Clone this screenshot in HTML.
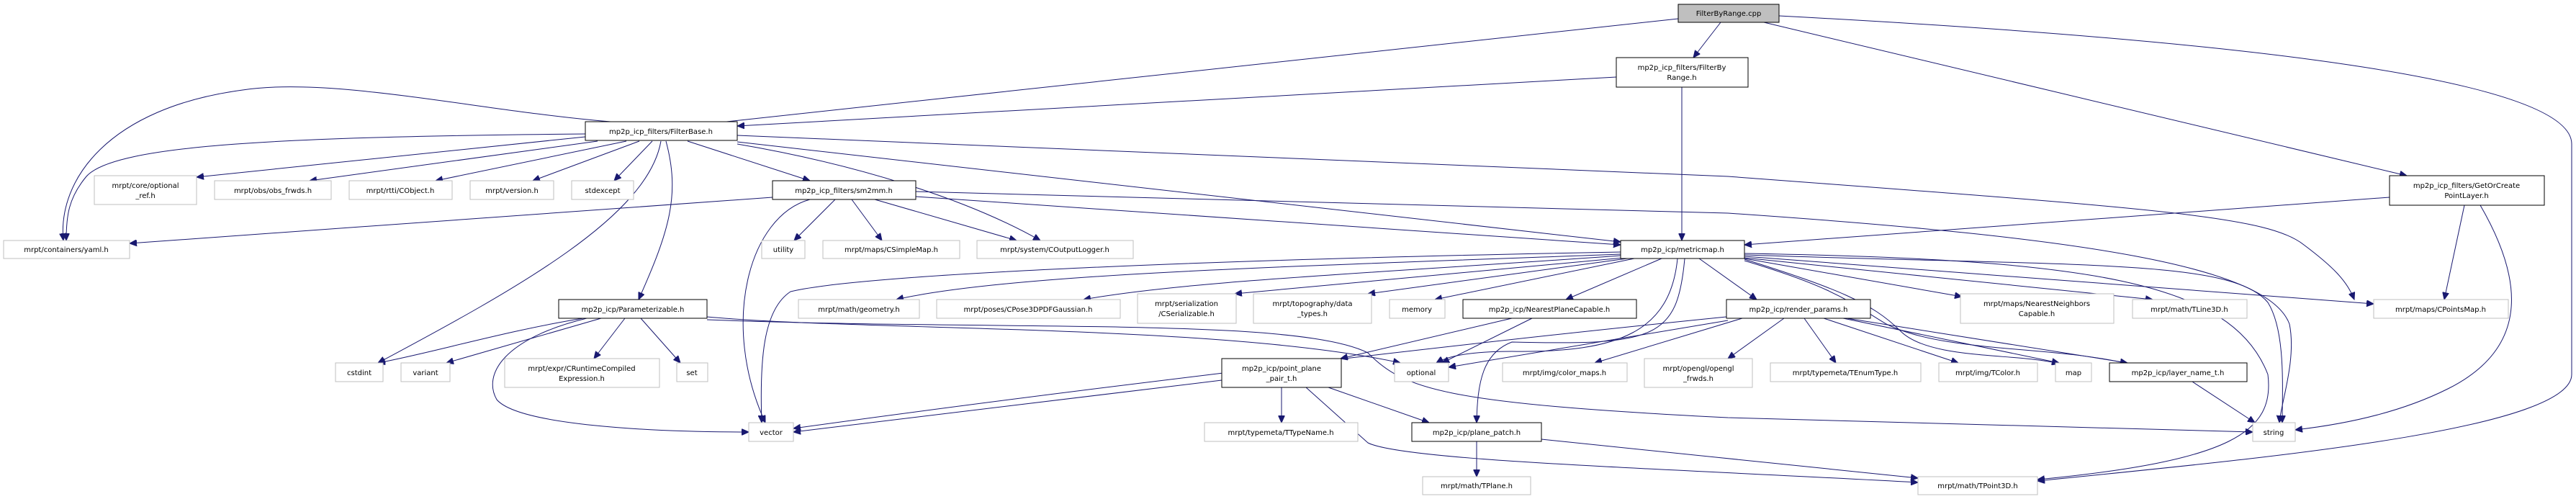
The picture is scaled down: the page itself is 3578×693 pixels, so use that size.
<!DOCTYPE html>
<html><head><meta charset="utf-8"><style>
html,body{margin:0;padding:0;background:#fff}
svg{display:block}
text{font-family:"DejaVu Sans","Liberation Sans",sans-serif;font-size:10px;fill:#000}
.e{fill:none;stroke:#191970;stroke-width:1}
.n{fill:#fff;stroke:#000;stroke-width:1}
.g{fill:#fff;stroke:#bfbfbf;stroke-width:1}
.g2{fill:#bfbfbf;stroke:#000;stroke-width:1}
</style></head><body>
<svg width="3578" height="693" viewBox="0 0 3578 693" xmlns="http://www.w3.org/2000/svg">
<defs><marker id="a" markerUnits="userSpaceOnUse" markerWidth="11" markerHeight="9" refX="10" refY="4.5" orient="auto"><path d="M0,0 L10,4.5 L0,9 z" fill="#191970" stroke="#191970"/></marker></defs>
<g marker-end="url(#a)">
<path class="e" d="M2390,31 L2352,80"/>
<path class="e" d="M2331,26 L1000,170 C800,190 500,100 337,125 C150,150 80,250 88,334"/>
<path class="e" d="M2450,31 L3343,244"/>
<path class="e" d="M2471,22 C3000,50 3572,100 3572,200 L3572,520 C3572,600 3100,640 2830,668"/>
<path class="e" d="M2245,107 L1024,175"/>
<path class="e" d="M2336,121 L2336,334"/>
<path class="e" d="M813,186 C400,190 160,200 120,245 C95,275 92,300 92,334"/>
<path class="e" d="M813,190 L273,246"/>
<path class="e" d="M830,196 L430,251"/>
<path class="e" d="M870,196 L605,251"/>
<path class="e" d="M888,196 L740,251"/>
<path class="e" d="M906,196 L853,251"/>
<path class="e" d="M955,196 L1125,251"/>
<path class="e" d="M925,196 C945,270 930,320 887,416"/>
<path class="e" d="M918,196 C900,300 720,400 525,504"/>
<path class="e" d="M1024,200 C1200,230 1350,280 1445,334"/>
<path class="e" d="M1024,197 L2251,336"/>
<path class="e" d="M1024,188 L2400,245 C3000,290 3150,300 3200,340 C3240,370 3260,390 3270,416"/>
<path class="e" d="M1073,274 L180,338"/>
<path class="e" d="M1160,277 L1103,334"/>
<path class="e" d="M1183,277 L1225,334"/>
<path class="e" d="M1215,277 L1412,334"/>
<path class="e" d="M1272,273 L2251,340"/>
<path class="e" d="M1272,266 L2400,296 C2900,330 3150,370 3180,450 C3190,500 3168,560 3166,587"/>
<path class="e" d="M1125,277 C1040,300 1000,450 1063,587"/>
<path class="e" d="M810,442 C700,460 600,490 525,504"/>
<path class="e" d="M835,442 L620,504"/>
<path class="e" d="M868,442 L825,498"/>
<path class="e" d="M890,442 L945,504"/>
<path class="e" d="M815,442 C700,470 670,520 690,555 C720,590 900,600 1040,600"/>
<path class="e" d="M982,440 C1200,460 1700,450 1945,504"/>
<path class="e" d="M982,444 C1400,460 1800,440 1900,490 C1950,540 2000,560 2400,580 L3129,600"/>
<path class="e" d="M2251,350 C1700,360 1200,380 1098,405 C1060,430 1055,500 1058,587"/>
<path class="e" d="M2251,353 C1800,370 1400,380 1245,416"/>
<path class="e" d="M2251,355 C1900,380 1650,390 1505,416"/>
<path class="e" d="M2255,358 L1715,408"/>
<path class="e" d="M2260,359 L1900,408"/>
<path class="e" d="M2270,359 L1993,416"/>
<path class="e" d="M2308,359 L2175,416"/>
<path class="e" d="M2330,359 C2320,460 2250,490 2100,488 C2040,488 2010,495 1995,504"/>
<path class="e" d="M2340,359 C2330,470 2300,480 2100,475 C2060,490 2052,530 2051,587"/>
<path class="e" d="M2360,359 L2440,416"/>
<path class="e" d="M2423,359 L2725,412"/>
<path class="e" d="M2423,358 L2990,416"/>
<path class="e" d="M2423,356 L3297,422"/>
<path class="e" d="M2423,354 C2900,370 3100,360 3150,420 C3175,460 3170,540 3170,587"/>
<path class="e" d="M2423,360 C2550,400 2600,420 2640,460 C2680,500 2800,490 2860,505"/>
<path class="e" d="M2423,362 C2550,400 2570,420 2620,450 C2700,490 2850,480 2955,505"/>
<path class="e" d="M2423,352 C2900,360 3100,390 3150,520 C3160,600 3100,640 2830,666"/>
<path class="e" d="M2100,442 L1862,498"/>
<path class="e" d="M2128,442 L2003,504"/>
<path class="e" d="M2398,440 C2000,480 1500,540 1102,595"/>
<path class="e" d="M2400,445 L2012,510"/>
<path class="e" d="M2420,442 L2215,504"/>
<path class="e" d="M2478,442 L2400,498"/>
<path class="e" d="M2506,442 L2550,504"/>
<path class="e" d="M2533,442 L2720,504"/>
<path class="e" d="M2560,442 L2860,504"/>
<path class="e" d="M2565,442 L2955,504"/>
<path class="e" d="M1697,528 L1102,600"/>
<path class="e" d="M1780,538 L1780,587"/>
<path class="e" d="M1845,538 L1985,587"/>
<path class="e" d="M1814,538 L1900,615 C1950,640 2300,650 2664,670"/>
<path class="e" d="M2051,613 L2051,662"/>
<path class="e" d="M2141,610 L2664,664"/>
<path class="e" d="M3045,530 L3132,587"/>
<path class="e" d="M3319,274 L2423,340"/>
<path class="e" d="M3423,285 L3395,416"/>
<path class="e" d="M3445,285 C3500,380 3520,480 3400,540 C3330,575 3250,590 3188,597"/>
</g>
<g>
<rect class="g2" x="2331" y="6" width="140" height="25"/><text x="2401" y="22" text-anchor="middle">FilterByRange.cpp</text>
<rect class="n" x="2245" y="80" width="183" height="41"/><text x="2336" y="97" text-anchor="middle">mp2p_icp_filters/FilterBy</text><text x="2336" y="111" text-anchor="middle">Range.h</text>
<rect class="n" x="813" y="169" width="211" height="26"/><text x="918" y="186" text-anchor="middle">mp2p_icp_filters/FilterBase.h</text>
<rect class="g" x="131" y="244" width="142" height="40"/><text x="202" y="261" text-anchor="middle">mrpt/core/optional</text><text x="202" y="275" text-anchor="middle">_ref.h</text>
<rect class="g" x="298" y="251" width="162" height="26"/><text x="379" y="268" text-anchor="middle">mrpt/obs/obs_frwds.h</text>
<rect class="g" x="485" y="251" width="143" height="26"/><text x="556" y="268" text-anchor="middle">mrpt/rtti/CObject.h</text>
<rect class="g" x="653" y="251" width="116" height="26"/><text x="711" y="268" text-anchor="middle">mrpt/version.h</text>
<rect class="g" x="794" y="251" width="86" height="26"/><text x="837" y="268" text-anchor="middle">stdexcept</text>
<rect class="n" x="1073" y="251" width="199" height="26"/><text x="1172" y="268" text-anchor="middle">mp2p_icp_filters/sm2mm.h</text>
<rect class="g" x="5" y="334" width="175" height="25"/><text x="92" y="350" text-anchor="middle">mrpt/containers/yaml.h</text>
<rect class="g" x="1058" y="334" width="60" height="25"/><text x="1088" y="350" text-anchor="middle">utility</text>
<rect class="g" x="1143" y="334" width="190" height="25"/><text x="1238" y="350" text-anchor="middle">mrpt/maps/CSimpleMap.h</text>
<rect class="g" x="1357" y="334" width="217" height="25"/><text x="1465" y="350" text-anchor="middle">mrpt/system/COutputLogger.h</text>
<rect class="n" x="2251" y="334" width="172" height="25"/><text x="2337" y="350" text-anchor="middle">mp2p_icp/metricmap.h</text>
<rect class="g" x="3297" y="416" width="187" height="26"/><text x="3390" y="433" text-anchor="middle">mrpt/maps/CPointsMap.h</text>
<rect class="n" x="3319" y="244" width="215" height="41"/><text x="3426" y="261" text-anchor="middle">mp2p_icp_filters/GetOrCreate</text><text x="3426" y="275" text-anchor="middle">PointLayer.h</text>
<rect class="n" x="776" y="416" width="206" height="26"/><text x="879" y="433" text-anchor="middle">mp2p_icp/Parameterizable.h</text>
<rect class="g" x="1109" y="416" width="168" height="26"/><text x="1193" y="433" text-anchor="middle">mrpt/math/geometry.h</text>
<rect class="g" x="1301" y="416" width="255" height="26"/><text x="1428" y="433" text-anchor="middle">mrpt/poses/CPose3DPDFGaussian.h</text>
<rect class="g" x="1580" y="408" width="137" height="41"/><text x="1648" y="425" text-anchor="middle">mrpt/serialization</text><text x="1648" y="439" text-anchor="middle">/CSerializable.h</text>
<rect class="g" x="1741" y="408" width="164" height="41"/><text x="1823" y="425" text-anchor="middle">mrpt/topography/data</text><text x="1823" y="439" text-anchor="middle">_types.h</text>
<rect class="g" x="1930" y="416" width="77" height="26"/><text x="1968" y="433" text-anchor="middle">memory</text>
<rect class="n" x="2032" y="416" width="241" height="26"/><text x="2152" y="433" text-anchor="middle">mp2p_icp/NearestPlaneCapable.h</text>
<rect class="n" x="2398" y="416" width="200" height="26"/><text x="2498" y="433" text-anchor="middle">mp2p_icp/render_params.h</text>
<rect class="g" x="2723" y="408" width="213" height="41"/><text x="2829" y="425" text-anchor="middle">mrpt/maps/NearestNeighbors</text><text x="2829" y="439" text-anchor="middle">Capable.h</text>
<rect class="g" x="2962" y="416" width="159" height="26"/><text x="3041" y="433" text-anchor="middle">mrpt/math/TLine3D.h</text>
<rect class="g" x="466" y="504" width="66" height="26"/><text x="499" y="521" text-anchor="middle">cstdint</text>
<rect class="g" x="557" y="504" width="68" height="26"/><text x="591" y="521" text-anchor="middle">variant</text>
<rect class="g" x="701" y="498" width="215" height="40"/><text x="808" y="515" text-anchor="middle">mrpt/expr/CRuntimeCompiled</text><text x="808" y="529" text-anchor="middle">Expression.h</text>
<rect class="g" x="940" y="504" width="43" height="26"/><text x="961" y="521" text-anchor="middle">set</text>
<rect class="n" x="1697" y="498" width="166" height="40"/><text x="1780" y="515" text-anchor="middle">mp2p_icp/point_plane</text><text x="1780" y="529" text-anchor="middle">_pair_t.h</text>
<rect class="g" x="1937" y="504" width="75" height="26"/><text x="1974" y="521" text-anchor="middle">optional</text>
<rect class="g" x="2087" y="504" width="173" height="26"/><text x="2173" y="521" text-anchor="middle">mrpt/img/color_maps.h</text>
<rect class="g" x="2284" y="498" width="150" height="40"/><text x="2359" y="515" text-anchor="middle">mrpt/opengl/opengl</text><text x="2359" y="529" text-anchor="middle">_frwds.h</text>
<rect class="g" x="2459" y="504" width="209" height="26"/><text x="2563" y="521" text-anchor="middle">mrpt/typemeta/TEnumType.h</text>
<rect class="g" x="2693" y="504" width="137" height="26"/><text x="2761" y="521" text-anchor="middle">mrpt/img/TColor.h</text>
<rect class="g" x="2855" y="504" width="50" height="26"/><text x="2880" y="521" text-anchor="middle">map</text>
<rect class="n" x="2930" y="504" width="191" height="26"/><text x="3025" y="521" text-anchor="middle">mp2p_icp/layer_name_t.h</text>
<rect class="g" x="1040" y="587" width="62" height="26"/><text x="1071" y="604" text-anchor="middle">vector</text>
<rect class="g" x="1673" y="587" width="213" height="26"/><text x="1779" y="604" text-anchor="middle">mrpt/typemeta/TTypeName.h</text>
<rect class="n" x="1961" y="587" width="180" height="26"/><text x="2051" y="604" text-anchor="middle">mp2p_icp/plane_patch.h</text>
<rect class="g" x="3129" y="587" width="59" height="26"/><text x="3158" y="604" text-anchor="middle">string</text>
<rect class="g" x="1976" y="662" width="150" height="25"/><text x="2051" y="678" text-anchor="middle">mrpt/math/TPlane.h</text>
<rect class="g" x="2664" y="662" width="166" height="25"/><text x="2747" y="678" text-anchor="middle">mrpt/math/TPoint3D.h</text>
</g>
</svg>
</body></html>
